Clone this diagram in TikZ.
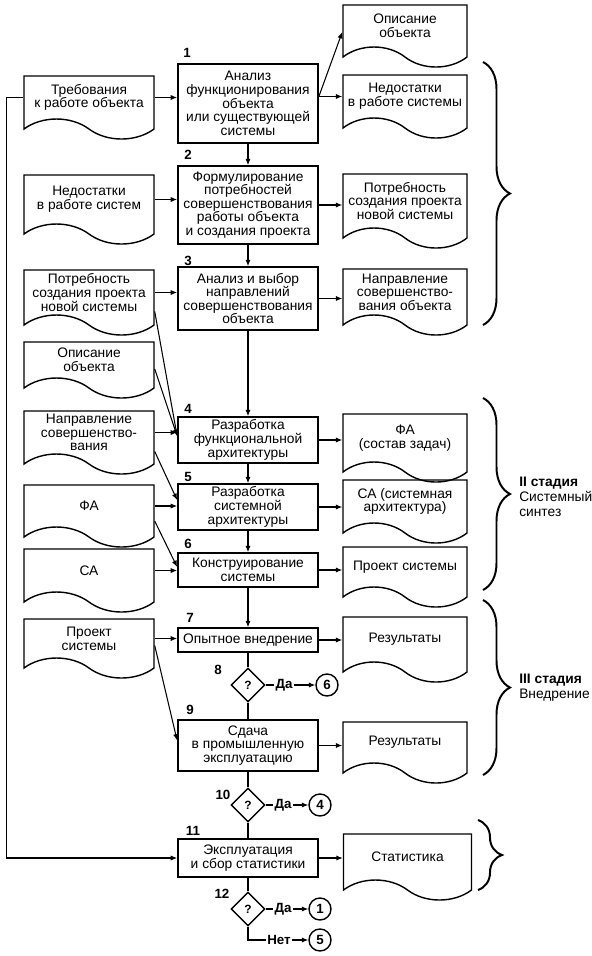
\documentclass[tikz,border=0pt]{standalone}
\usepackage{fontspec}
\setmainfont{Liberation Sans}
\usepackage{tikz}
\usetikzlibrary{arrows.meta,positioning,shapes.geometric,shapes.symbols,calc,decorations.pathreplacing}
\tikzset{
  proc/.style={draw, line width=1.2pt, minimum width=3.5cm, align=center,
               inner sep=1pt, font=\fontsize{9.8}{9.7}\selectfont},
  doc/.style={tape, draw, line width=1pt, tape bend top=none, tape bend bottom=out and in,
              tape bend height=0.5cm, align=center, inner sep=1pt,
              font=\fontsize{9.8}{9.7}\selectfont},
  ldoc/.style={doc, minimum width=3.25cm},
  rdoc/.style={doc, minimum width=3.1cm},
  num/.style={font=\fontsize{9.5}{9.6}\selectfont\bfseries, inner sep=0pt},
  dec/.style={diamond, draw, line width=1pt, minimum size=0.85cm, inner sep=0pt,
              font=\fontsize{8.5}{9}\selectfont\bfseries},
  conn/.style={circle, draw, line width=1pt, minimum size=0.55cm, inner sep=0pt,
               font=\fontsize{9.5}{9}\selectfont\bfseries},
  ans/.style={font=\fontsize{9.5}{9}\selectfont\bfseries, inner sep=1pt},
  arr/.style={-{Latex[length=1.6mm,width=1.3mm]}, line width=0.75pt},
  ln/.style={line width=0.75pt},
  brc/.style={decorate, decoration={brace, amplitude=0.675cm}, line width=1.4pt},
  stage/.style={align=left, anchor=west, font=\fontsize{9.8}{10.5}\selectfont, inner sep=0pt}
}

\begin{document}
\begin{tikzpicture}[x=0.025cm, y=-0.025cm]
\useasboundingbox (0,0) rectangle (592,956);

% main chain
\node[proc, minimum height=1.975cm] (b1) at (248,103.5) {Анализ\\функционирования\\объекта\\или существующей\\системы};
\node[proc, minimum height=1.95cm] (b2) at (248,205) {Формулирование\\потребностей\\совершенствования\\работы объекта\\и создания проекта};
\node[proc, minimum height=1.575cm] (b3) at (248,298.5) {Анализ и выбор\\направлений\\совершенствования\\объекта};
\node[proc, minimum height=1.15cm] (b4) at (248,440) {Разработка\\функциональной\\архитектуры};
\node[proc, minimum height=1.15cm] (b5) at (248,507) {Разработка\\системной\\архитектуры};
\node[proc, minimum height=0.85cm] (b6) at (248,570) {Конструирование\\системы};
\node[proc, minimum height=0.6cm] (b7) at (248,640) {Опытное внедрение};
\node[dec] (d8) at (248,685) {?};
\node[proc, minimum height=1.275cm] (b9) at (248,745.5) {Сдача\\в промышленную\\эксплуатацию};
\node[dec] (d10) at (248,805) {?};
\node[proc, minimum height=0.95cm] (b11) at (248,858) {Эксплуатация\\и сбор статистики};
\node[dec] (d12) at (248,909) {?};

% step numbers
\node[num] (n1) at (187,53) {1};
\node[num] (n2) at (188,155) {2};
\node[num] (n3) at (188,261) {3};
\node[num] (n4) at (188,409) {4};
\node[num] (n5) at (188,477) {5};
\node[num] (n6) at (188,544) {6};
\node[num] (n7) at (190,618) {7};
\node[num] (n8) at (218,670) {8};
\node[num] (n9) at (190,710) {9};
\node[num] (n10) at (223,795) {10};
\node[num] (n11) at (193,831) {11};
\node[num] (n12) at (222,894) {12};

% input documents
\node[ldoc, minimum height=1.575cm] (l1) at (89,97.5) {Требования\\к работе объекта};
\node[ldoc, minimum height=1.725cm] (l2) at (89,199.5) {Недостатки\\в работе систем};
\node[ldoc, minimum height=1.625cm] (l3) at (89,292.5) {Потребность\\создания проекта\\новой системы};
\node[ldoc, minimum height=1.4cm] (l4) at (89,360) {Описание\\объекта};
\node[ldoc, minimum height=1.575cm] (l5) at (89,432.5) {Направление\\совершенство-\\вания};
\node[ldoc, minimum height=1.55cm] (l6) at (89,506) {ФА};
\node[ldoc, minimum height=1.575cm] (l7) at (89,570.5) {СА};
\node[ldoc, minimum height=1.475cm] (l8) at (89,638.5) {Проект\\системы};

% output documents
\node[rdoc, minimum height=1.55cm] (r0) at (405,26) {Описание\\объекта};
\node[rdoc, minimum height=1.575cm] (r1) at (405,96.5) {Недостатки\\в работе системы};
\node[rdoc, minimum height=1.85cm] (r2) at (405,201) {Потребность\\создания проекта\\новой системы};
\node[rdoc, minimum height=1.65cm] (r3) at (405,292) {Направление\\совершенство-\\вания объекта};
\node[rdoc, minimum height=1.7cm] (r4) at (405,438) {ФА\\(состав задач)};
\node[rdoc, minimum height=1.575cm] (r5) at (405,501.5) {СА (системная\\архитектура)};
\node[rdoc, minimum height=1.5cm] (r6) at (405,567) {Проект системы};
\node[rdoc, minimum height=1.625cm] (r7) at (405,639.5) {Результаты};
\node[rdoc, minimum height=1.525cm] (r8) at (405,742.5) {Результаты};
\node[rdoc, minimum height=1.65cm, minimum width=3.2cm] (r9) at (407.5,857) {Статистика};

% decision exits
\node[ans] (y8) at (284,685) {Да};
\node[conn] (c6) at (327,685) {6};
\node[ans] (y10) at (283,805) {Да};
\node[conn] (c4) at (320,805) {4};
\node[ans] (y12) at (283,909) {Да};
\node[conn] (c1) at (320,909) {1};
\coordinate (k12) at (248,940);
\node[ans] (no12) at (279,940) {Нет};
\node[conn] (c5) at (320,940) {5};

% flow
\draw[arr] (b1) -- (b2);
\draw[arr] (b2) -- (b3);
\draw[arr] (b3) -- (b4);
\draw[arr] (b4) -- (b5);
\draw[arr] (b5) -- (b6);
\draw[arr] (b6) -- (b7);
\draw[ln] (b7) -- (d8);
\draw[ln] (d8) -- (b9);
\draw[ln] (b9) -- (d10);
\draw[ln] (d10) -- (b11);
\draw[ln] (b11) -- (d12);
\draw[ln] (d8) -- (y8);
\draw[arr] (y8) -- (c6);
\draw[ln] (d10) -- (y10);
\draw[arr] (y10) -- (c4);
\draw[ln] (d12) -- (y12);
\draw[arr] (y12) -- (c1);
\draw[ln] (d12) -- (k12) -- (no12);
\draw[arr] (no12) -- (c5);

% inputs
\draw[arr] (l1.east) -- (l1.east -| b1.west);
\draw[arr] (l2.east) -- (l2.east -| b2.west);
\draw[arr] (l3.east) -- (l3.east -| b3.west);
\draw[arr] ($(l3.east)+(0,19)$) -- ($(b4.west)+(0,-4)$);
\draw[arr] ($(l4.east)+(0,9)$) -- ($(b4.west)+(0,-4)$);
\draw[arr] (l5.east) -- (l5.east -| b4.west);
\draw[arr] ($(l5.east)+(0,19)$) -- ($(b5.west)+(0,-7)$);
\draw[arr] (l6.east) -- (l6.east -| b5.west);
\draw[arr] ($(l6.east)+(0,15)$) -- ($(b6.west)+(0,-3)$);
\draw[arr] (l7.east) -- (l7.east -| b6.west);
\draw[arr] (l8.east) -- (l8.east -| b7.west);
\draw[arr] ($(l8.east)+(0,7)$) -- ($(b9.west)+(0,-5)$);
\draw[arr] (l1.west) -- ++(-17,0) |- (b11.west);

% outputs
\draw[arr] (r1.west -| b1.east) -- (r1.west);
\draw[arr] (r1.west -| b1.east) -- ($(r0.west)+(0,6)$);
\draw[arr] (b2.east) -- (b2.east -| r2.west);
\draw[arr] (b3.east) -- (b3.east -| r3.west);
\draw[arr] (b4.east) -- (b4.east -| r4.west);
\draw[arr] (b5.east) -- (b5.east -| r5.west);
\draw[arr] (b6.east) -- (b6.east -| r6.west);
\draw[arr] (b7.east) -- (b7.east -| r7.west);
\draw[arr] (b9.east) -- (b9.east -| r8.west);
\draw[arr] (b11.east) -- (b11.east -| r9.west);

% stages
\draw[brc] (483,62) -- (483,325);
\draw[brc] (483,398) -- (483,590);
\draw[brc] (483,600) -- (483,775);
\draw[brc, decoration={amplitude=0.6cm}] (478,820) -- (478,890);
\node[stage] (s2) at (519,497) {\textbf{II стадия}\\Системный\\синтез};
\node[stage] (s3) at (519,688) {\textbf{III стадия}\\Внедрение};
\end{tikzpicture}
\end{document}
